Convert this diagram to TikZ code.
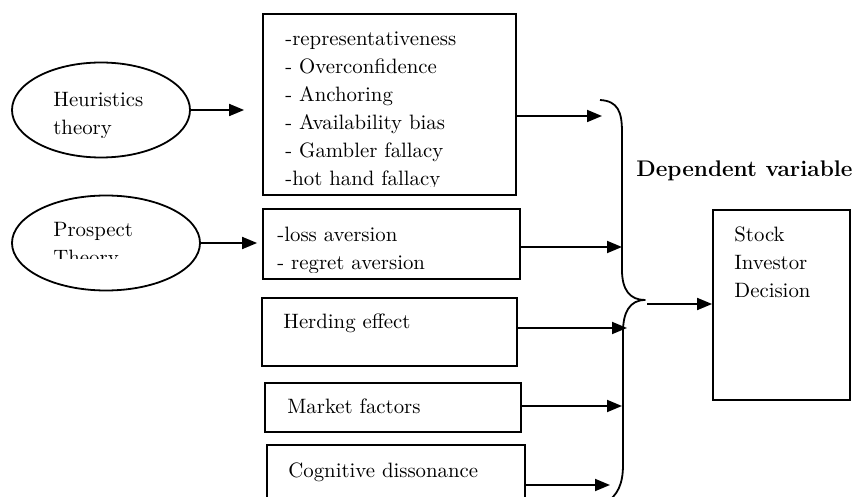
\documentclass[tikz,border=0pt]{standalone}
\usepackage{tikz}
\usetikzlibrary{shapes,arrows.meta,positioning,calc}

\begin{document}
\begin{tikzpicture}[
    x=0.5pt, y=-0.5pt,
    theory/.style={ellipse, draw, line width=0.9pt, inner sep=0pt, minimum height=47.5pt},
    factor/.style={rectangle, draw, line width=0.9pt, inner sep=0pt},
    txt/.style={anchor=base west, inner sep=0pt, align=left, font=\fontsize{10.4}{14}\selectfont},
    arrow/.style={-{Triangle[length=7.5pt,width=6pt]}, line width=0.9pt}
]
    \clip (0,0) rectangle (852,497);

    % Theories (text anchored on the last line)
    \node[theory, minimum width=89pt] (heur) at (101,110) {};
    \node[theory, minimum width=94pt] (prosp) at (106,243) {};
    \begin{scope}
        \clip (12,60) rectangle (190,138);
        \node[txt] (heur-t) at (53,135) {Heuristics\\theory};
    \end{scope}
    \begin{scope}
        \clip (12,190) rectangle (200,259);
        \node[txt] (prosp-t) at (53,265) {Prospect\\Theory};
    \end{scope}

    % Independent factors
    \node[factor, minimum width=126.5pt, minimum height=90.5pt] (bias) at (389.5,104.5) {};
    \node[factor, minimum width=128.5pt, minimum height=35pt] (loss) at (391.5,244) {};
    \node[factor, minimum width=127.5pt, minimum height=34pt] (herd) at (389.5,332) {};
    \node[factor, minimum width=128pt, minimum height=24.5pt] (market) at (393,407.5) {};
    \node[factor, minimum width=129pt, minimum height=35pt] (cog) at (396,480) {};
    \begin{scope}
        \clip (264,15) rectangle (515,187);
        \node[txt] (bias-t) at (285,186) {-representativeness\\- Overconfidence\\- Anchoring\\- Availability bias\\- Gambler fallacy\\-hot hand fallacy};
    \end{scope}
    \begin{scope}
        \clip (264,210) rectangle (519,273);
        \node[txt] (loss-t) at (277,270) {-loss aversion\\- regret aversion};
    \end{scope}
    \node[txt] (herd-t) at (283,329) {Herding effect};
    \node[txt] (market-t) at (287,414) {Market factors};
    \node[txt] (cog-t) at (288,477) {Cognitive dissonance};

    % Dependent variable
    \node[anchor=base west, inner sep=0pt, font=\bfseries\fontsize{11.3}{14}\selectfont] (dep) at (636,177) {Dependent variable};
    \node[factor, minimum width=68.5pt, minimum height=95pt] (dec) at (781.5,305) {};
    \node[txt] (dec-t) at (734,298) {Stock\\Investor\\Decision};

    % Brace
    \coordinate (cusp) at (645,300);
    \draw[line width=0.9pt, line join=round] (600,100) .. controls (618,101) and (622,112) .. (622,132)
        -- (622,270) .. controls (622,290) and (630,300) .. (cusp)
        .. controls (630,300) and (623,312) .. (623,332)
        -- (623,465) .. controls (623,485) and (617,495) .. (607,502);
    \coordinate (b1) at (602,116);
    \coordinate (b2) at (622,247);
    \coordinate (b3) at (627,328);
    \coordinate (b4) at (622,406);
    \coordinate (b5) at (610,485);
    \coordinate (out) at (647,304);

    % Edges
    \draw[arrow, shorten >=9pt] (heur.east) -- (heur.east -| bias.west);
    \draw[arrow, shorten >=2.5pt] (prosp.east) -- (prosp.east -| loss.west);
    \draw[arrow] (b1 -| bias.east) -- (b1);
    \draw[arrow] (b2 -| loss.east) -- (b2);
    \draw[arrow] (b3 -| herd.east) -- (b3);
    \draw[arrow] (b4 -| market.east) -- (b4);
    \draw[arrow] (b5 -| cog.east) -- (b5);
    \draw[arrow] (out) -- (out -| dec.west);
\end{tikzpicture}
\end{document}
